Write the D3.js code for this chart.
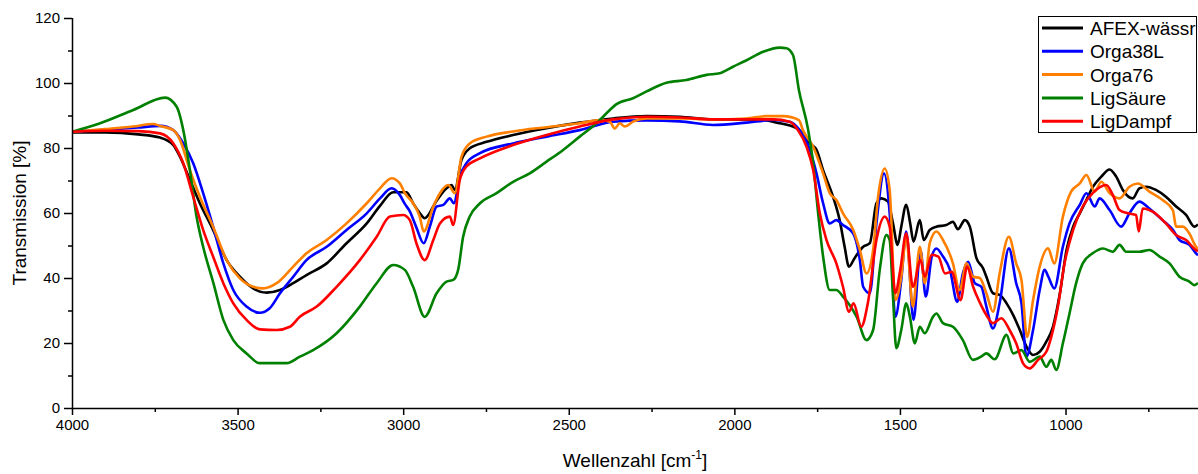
<!DOCTYPE html>
<html>
<head>
<meta charset="utf-8">
<script src="https://cdn.jsdelivr.net/npm/d3@7/dist/d3.min.js"></script>
<style>
  html, body { margin: 0; padding: 0; background: #fff; }
  svg { display: block; font-family: "Liberation Sans", Arial, sans-serif; }
</style>
</head>
<body>
<svg id="chart" width="1198" height="474"></svg>
<script>
// ---- Data: [wavenumber cm^-1, transmission %] ----
const seriesNames = ["AFEX-wässr", "Orga38L", "Orga76", "LigSäure", "LigDampf"];
const seriesColors = ["#000000", "#0000ff", "#ff8000", "#008000", "#ff0000"];

const afex = [[4000,84.8],[3900,84.8],[3800,84.2],[3734,83.2],[3694,80.9],[3674,77.3],[3644,70.2],[3614,63],[3574,54.8],[3533,45.5],[3493,40.4],[3453,36.8],[3412,35.5],[3372,36.3],[3332,38.4],[3292,40.9],[3231,44.5],[3171,50.7],[3110,56.8],[3070,62.2],[3030,66.4],[2990,66.4],[2970,63],[2950,60],[2935,58.4],[2899,63.8],[2869,67.6],[2854,68.6],[2844,67.1],[2824,76.3],[2799,79.9],[2748,81.9],[2668,84],[2567,86.1],[2467,87.8],[2366,89.1],[2265,89.8],[2165,89.6],[2064,88.8],[1964,88.8],[1913,88.6],[1863,87.6],[1823,86.6],[1803,85.5],[1772,81.4],[1752,79.4],[1732,73.2],[1702,65],[1682,57.8],[1667,49.6],[1654,43.5],[1637,46.1],[1611,49.6],[1591,50.7],[1571,63],[1556,64.5],[1536,63.5],[1521,56.8],[1507,50.2],[1496,55.8],[1481,62.5],[1469,56.8],[1459,51.2],[1440,57.8],[1428,51.7],[1410,54.8],[1390,55.8],[1360,56.3],[1340,57.3],[1325,55],[1304,57.8],[1289,55.8],[1269,46.1],[1249,43],[1239,40.4],[1219,35.3],[1199,34.8],[1178,32.2],[1158,28.6],[1138,24],[1118,18.9],[1098,16.3],[1078,17.3],[1058,20.4],[1038,25],[1017,35.3],[997,48.6],[977,55.8],[957,59.9],[937,64],[917,68.1],[892,71.2],[867,73.4],[847,71.2],[827,67.1],[797,64.5],[777,67.6],[757,68.1],[727,67.1],[697,65],[666,62],[636,59.4],[611,55.8],[600,56.5]];

const orga38 = [[4000,85],[3900,85.6],[3800,86.3],[3734,86.8],[3694,85.5],[3664,81.4],[3634,75.3],[3604,66.1],[3574,55.8],[3543,44.5],[3513,36.3],[3473,31.2],[3433,29.3],[3403,30.7],[3372,35.3],[3332,40.4],[3292,45.5],[3231,49.6],[3171,54.8],[3110,59.9],[3070,64.5],[3035,67.6],[3010,65.5],[2995,62.8],[2980,60.5],[2960,55.5],[2938,50.7],[2919,56],[2899,62],[2879,62.5],[2859,64.5],[2847,63],[2829,71.2],[2809,75.3],[2768,78.4],[2668,81.4],[2567,83.5],[2467,85.5],[2366,88.1],[2265,88.5],[2165,88.2],[2064,87.1],[1964,87.8],[1883,88.6],[1833,88.1],[1803,85.5],[1772,79.4],[1752,72.2],[1732,63],[1712,56.8],[1692,57.8],[1672,56.3],[1641,53.7],[1621,45.5],[1611,37.3],[1591,35.3],[1571,56.8],[1548,72.2],[1531,59.9],[1514,28.1],[1496,39.4],[1481,54.3],[1459,27.1],[1438,48.6],[1422,34.3],[1404,46.6],[1390,49.1],[1370,46.6],[1349,42.5],[1327,32.7],[1310,41.4],[1294,45],[1274,38.4],[1254,37.3],[1239,31.2],[1219,24.5],[1199,32.2],[1171,49.1],[1149,38.4],[1133,32.2],[1118,15.8],[1098,24],[1078,36.3],[1063,42.5],[1052,40.4],[1034,36.8],[1008,49.6],[988,56.8],[957,62.5],[937,66.1],[912,62],[897,64.5],[867,60.9],[832,55.8],[807,59.9],[777,63.5],[747,61.4],[707,57.8],[676,54.8],[656,51.7],[626,50.2],[606,47.6],[600,47]];

const orga76 = [[4000,85],[3900,85.8],[3816,86.6],[3755,87.4],[3734,86.8],[3694,85.5],[3674,82.5],[3644,73.2],[3614,65],[3574,55.8],[3533,45.5],[3493,39.9],[3453,37.3],[3423,36.8],[3382,38.4],[3332,43.5],[3292,47.6],[3231,51.7],[3171,56.8],[3110,63],[3070,67.6],[3035,70.7],[3010,69.1],[2995,66.1],[2970,63],[2950,58.9],[2938,54.3],[2909,62],[2889,66.1],[2864,68.6],[2844,66.1],[2824,77.3],[2799,81.4],[2748,83.5],[2668,85.1],[2567,86.4],[2467,87.6],[2406,88.6],[2376,88.1],[2361,86],[2346,87.6],[2331,86.6],[2306,88.1],[2265,89.1],[2165,89.1],[2064,88.8],[1964,89.1],[1903,89.8],[1853,89.8],[1805,88.6],[1793,85.5],[1762,80.4],[1732,72.2],[1712,66.1],[1692,64],[1672,59.9],[1641,54.8],[1621,48.6],[1601,41.4],[1581,48.6],[1566,65],[1546,73.7],[1531,67.1],[1514,33.2],[1496,40.4],[1481,52.7],[1461,31.2],[1440,49.6],[1425,38.4],[1410,50.7],[1390,54.3],[1370,51.7],[1340,44.5],[1320,36.3],[1299,44.5],[1279,40.4],[1259,40],[1239,35.3],[1219,29.6],[1199,41.4],[1171,52.7],[1149,44.5],[1133,39.4],[1116,21.9],[1098,33.2],[1078,43.5],[1053,49.1],[1034,44.5],[1008,58.9],[983,66.6],[957,69.1],[937,71.7],[912,66.6],[892,69.6],[867,66.1],[837,64.5],[807,68.1],[782,69.1],[747,66.6],[707,64],[676,60.9],[666,55.8],[646,55.8],[626,53.7],[606,49.6],[600,49]];

const ligSaeure = [[4000,85],[3915,87.6],[3815,91.7],[3719,95.5],[3684,92.7],[3664,85.5],[3644,73.2],[3624,58.9],[3604,49.6],[3573,38.4],[3543,27.1],[3513,20.9],[3473,16.8],[3433,13.8],[3352,13.8],[3312,15.8],[3272,17.8],[3201,23],[3131,31.2],[3080,38.4],[3030,44],[2995,42.5],[2970,37.3],[2935,28.1],[2899,35.3],[2869,38.9],[2849,39.4],[2834,42.5],[2819,52.7],[2799,58.9],[2768,63],[2718,66.1],[2668,69.6],[2618,72.2],[2567,75.8],[2517,79.4],[2467,83.5],[2416,87.6],[2376,91.7],[2356,93.5],[2306,95.3],[2265,97.4],[2205,100.1],[2145,100.9],[2084,102.5],[2044,103],[2004,105],[1963,107],[1913,109.6],[1863,110.9],[1843,110.7],[1823,108.6],[1805,97.8],[1777,85.5],[1762,75.3],[1747,59.9],[1732,46.6],[1712,36.3],[1692,36.3],[1672,34.3],[1652,31.7],[1631,28.1],[1601,20.9],[1581,24],[1561,42.5],[1541,53.2],[1531,51.7],[1521,34.3],[1511,18.4],[1496,24],[1481,32.2],[1470,28.1],[1455,19.9],[1440,25],[1425,23],[1400,28.1],[1390,29.1],[1370,26.1],[1340,25],[1310,20.9],[1280,14.8],[1255,15.8],[1239,16.8],[1214,15],[1178,22.5],[1158,16.8],[1133,17.8],[1108,14.2],[1078,15.8],[1058,12.7],[1043,14.8],[1028,11.7],[1008,19.9],[988,29.1],[968,38.4],[948,44.5],[918,47.6],[887,49.1],[857,48.1],[837,50.2],[817,48.1],[777,48.1],[747,48.6],[716,46.6],[686,44.5],[656,40.4],[626,38.9],[611,37.8],[600,38.5]];

const ligDampf = [[4000,85],[3900,85.3],[3800,85.2],[3734,84.5],[3694,81.4],[3664,75.3],[3634,65],[3604,54.8],[3574,46.6],[3543,38.4],[3513,32.2],[3473,27.1],[3433,24.2],[3382,24],[3342,25],[3312,28.1],[3261,31.2],[3201,37.3],[3131,45.5],[3080,52.7],[3040,58.9],[3000,59.4],[2980,57.8],[2960,50.7],[2935,45.5],[2909,51.7],[2889,56.8],[2859,58.9],[2849,56.3],[2829,70.2],[2809,74.3],[2768,76.8],[2668,80.9],[2567,84],[2467,86.6],[2366,88.8],[2265,89.6],[2165,89.4],[2064,88.8],[1964,88.8],[1883,88.8],[1833,88.1],[1808,85.5],[1782,80.4],[1762,73.2],[1742,59.9],[1722,51.7],[1692,44.5],[1672,37.3],[1654,29.6],[1640,32.2],[1617,25],[1597,32.2],[1571,51.7],[1546,58.9],[1531,55.8],[1514,35.3],[1499,42.5],[1481,53.7],[1461,37.3],[1438,45.5],[1425,40.4],[1404,47.1],[1384,46.6],[1364,41.4],[1344,41.9],[1317,33.2],[1297,43.5],[1279,37.3],[1259,32.5],[1239,28.6],[1219,26.1],[1194,27.6],[1169,24],[1149,19.9],[1128,13.7],[1108,12.2],[1083,14.8],[1058,17.3],[1043,21.9],[1023,31.2],[1003,44.5],[977,54.8],[948,62],[918,66.1],[877,68.6],[857,65.5],[837,60.9],[812,59.9],[787,59.4],[779,54.3],[767,61.4],[737,60.4],[697,56.8],[666,53.2],[636,51.7],[606,48.6],[600,48.3]];

const xTickValues = [4000, 3500, 3000, 2500, 2000, 1500, 1000];
const xMinorTicks = [3750, 3250, 2750, 2250, 1750, 1250, 750];
const yTickValues = [0, 20, 40, 60, 80, 100, 120];
const yMinorTicks = [10, 30, 50, 70, 90, 110];
const xTitle = "Wellenzahl [cm";
const yTitle = "Transmission [%]";

// ---- Layout ----
const svg = d3.select("#chart");
const mLeft = 72, mRight = 1198, mTop = 18, mBottom = 408;
const x = d3.scaleLinear().domain([4000, 600]).range([mLeft, mRight]);
const y = d3.scaleLinear().domain([0, 120]).range([mBottom, mTop]);

svg.append("defs").append("clipPath").attr("id", "clip")
  .append("rect").attr("x", mLeft).attr("y", mTop - 2).attr("width", mRight - mLeft).attr("height", mBottom - mTop + 2);

const allSeries = [afex, orga38, orga76, ligSaeure, ligDampf];
const line = d3.line().x(d => x(d[0])).y(d => y(d[1])).curve(d3.curveMonotoneX);

const g = svg.append("g").attr("clip-path", "url(#clip)");
allSeries.forEach((s, i) => {
  g.append("path").datum(s)
    .attr("fill", "none")
    .attr("stroke", seriesColors[i])
    .attr("stroke-width", 2.6)
    .attr("stroke-linejoin", "round")
    .attr("d", line);
});

// ---- Axes ----
const fontTick = "15px";
const xAxis = svg.append("g").attr("transform", `translate(0,${mBottom})`)
  .call(d3.axisBottom(x).tickValues(xTickValues).tickSize(7).tickPadding(4).tickFormat(d3.format("d")));
xAxis.selectAll(".tick text").attr("font-size", fontTick).attr("fill", "#000").attr("font-family", "Liberation Sans, Arial, sans-serif");
const xMinor = svg.append("g").attr("transform", `translate(0,${mBottom})`)
  .call(d3.axisBottom(x).tickValues(xMinorTicks).tickSize(4).tickFormat(""));
xMinor.select(".domain").remove();

const yAxis = svg.append("g").attr("transform", `translate(${mLeft},0)`)
  .call(d3.axisLeft(y).tickValues(yTickValues).tickSize(8).tickPadding(4).tickFormat(d3.format("d")));
yAxis.selectAll(".tick text").attr("font-size", fontTick).attr("fill", "#000").attr("font-family", "Liberation Sans, Arial, sans-serif");
const yMinor = svg.append("g").attr("transform", `translate(${mLeft},0)`)
  .call(d3.axisLeft(y).tickValues(yMinorTicks).tickSize(4).tickFormat(""));
yMinor.select(".domain").remove();

svg.selectAll(".domain, .tick line").attr("stroke", "#000").attr("stroke-width", 1.5);
xAxis.select(".domain").attr("d", `M${mLeft},0.5H${mRight}`);
yAxis.select(".domain").attr("d", `M0.5,${mBottom}V${mTop}`);

// ---- Titles ----
const xt = svg.append("text").attr("x", (mLeft + mRight) / 2).attr("y", 467)
  .attr("text-anchor", "middle").attr("font-size", "19px").attr("fill", "#000");
xt.append("tspan").text(xTitle);
xt.append("tspan").text("-1").attr("font-size", "12px").attr("dy", "-8");
xt.append("tspan").text("]").attr("dy", "8");

svg.append("text").attr("transform", `translate(26,${(mTop + mBottom) / 2}) rotate(-90)`)
  .attr("text-anchor", "middle").attr("font-size", "19px").attr("fill", "#000").text(yTitle);

// ---- Legend ----
const lg = svg.append("g");
lg.append("rect").attr("x", 1038.5).attr("y", 16.5).attr("width", 158).attr("height", 116)
  .attr("fill", "#fff").attr("stroke", "#000").attr("stroke-width", 1);
seriesNames.forEach((name, i) => {
  const yy = 28 + i * 23.3;
  lg.append("line").attr("x1", 1042).attr("x2", 1083).attr("y1", yy).attr("y2", yy)
    .attr("stroke", seriesColors[i]).attr("stroke-width", 3);
  lg.append("text").attr("x", 1090).attr("y", yy + 7).attr("font-size", "19px").attr("fill", "#000").text(name);
});
</script>
</body>
</html>
